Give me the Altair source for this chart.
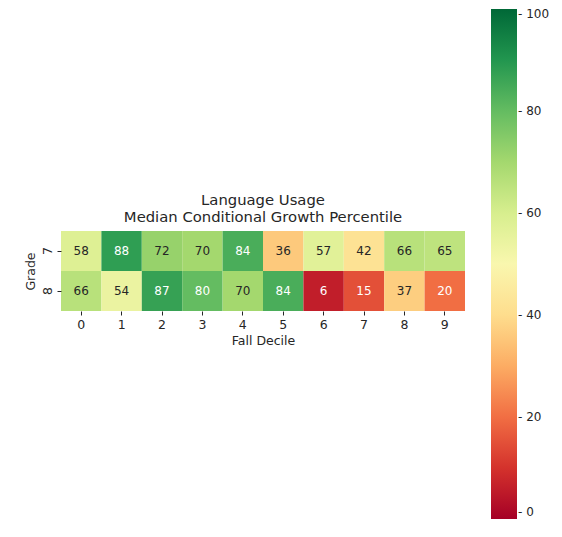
import altair as alt
import pandas as pd

deciles = [0, 1, 2, 3, 4, 5, 6, 7, 8, 9]
grades = ["7", "8"]
grade7 = [58, 88, 72, 70, 84, 36, 57, 42, 66, 65]
grade8 = [66, 54, 87, 80, 70, 84, 6, 15, 37, 20]
title_lines = ["Language Usage", "Median Conditional Growth Percentile"]

rows = []
for g, vals in zip(grades, [grade7, grade8]):
    for d, v in zip(deciles, vals):
        rows.append({"Decile": str(d), "Grade": g, "v": v})
df = pd.DataFrame(rows)

FONT = "DejaVu Sans"
DARK = "#262626"
x = alt.X("Decile:O", sort=[str(d) for d in deciles],
          scale=alt.Scale(paddingInner=0, paddingOuter=0),
          axis=alt.Axis(title="Fall Decile", labelAngle=0, domain=False, tickSize=4,
                        labelPadding=3, titlePadding=4))
y = alt.Y("Grade:O", sort=grades,
          scale=alt.Scale(paddingInner=0, paddingOuter=0),
          axis=alt.Axis(title="Grade", labelAngle=270, domain=False, tickSize=4,
                        labelPadding=10, labelBaseline="middle", labelAlign="center",
                        titlePadding=4))

base = alt.Chart(df).encode(x=x, y=y)

rect = base.mark_rect(strokeWidth=0).encode(
    color=alt.Color("v:Q",
                    scale=alt.Scale(scheme="redyellowgreen", domain=[0, 100]),
                    legend=alt.Legend(orient="none", legendX=430, legendY=-222,
                                      gradientLength=510, gradientThickness=26,
                                      title=None, values=[0, 20, 40, 60, 80, 100],
                                      gradientStrokeWidth=0, labelFontSize=12,
                                      labelFont=FONT, labelColor=DARK,
                                      labelBaseline="middle",
                                      labelExpr="'- ' + datum.label",
                                      labelOffset=1, direction="vertical"))
)
text = base.mark_text(font=FONT, fontSize=12).encode(
    text="v:Q",
    color=alt.condition("datum.v >= 75 || datum.v <= 25",
                        alt.value("#ffffff"), alt.value(DARK))
)

t1 = alt.Chart(pd.DataFrame({"t": [title_lines[0]]})).mark_text(
    font=FONT, fontSize=14.8, color=DARK, baseline="middle").encode(
    x=alt.value(202), y=alt.value(-30), text="t:N")
t2 = alt.Chart(pd.DataFrame({"t": [title_lines[1]]})).mark_text(
    font=FONT, fontSize=14.8, color=DARK, baseline="middle").encode(
    x=alt.value(202), y=alt.value(-13), text="t:N")

chart = (rect + text + t1 + t2).properties(
    width=404, height=80,
    autosize="none",
    padding={"left": 53, "top": 223, "right": 89, "bottom": 218},
).configure_view(stroke=None).configure_axis(
    labelFont=FONT, titleFont=FONT, labelFontSize=12.5, titleFontSize=12.5,
    titleFontWeight="normal", labelColor=DARK, titleColor=DARK,
    tickColor=DARK, grid=False
)

chart.save("out.html", embed_options={"renderer": "svg", "actions": False})
